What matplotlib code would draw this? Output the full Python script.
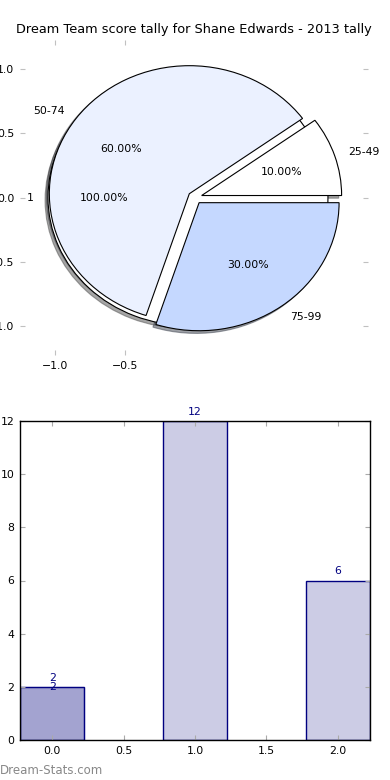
import matplotlib
matplotlib.use("Agg")
import matplotlib.pyplot as plt

# ---- data ----
title = "Dream Team score tally for Shane Edwards - 2013 tally"
first_labels = ["1"]
first_values = [2]
labels = ["25-49", "50-74", "75-99"]
values = [2, 12, 6]
pie_colors = ["#FFFFFF", "#EBF1FF", "#C5D8FF"]
bar_positions = [0, 1, 2]
first_positions = [0]
pie_xticks = [-1.0, -0.5]
pie_yticks = [-1.0, -0.5, 0.0, 0.5, 1.0]
bar_yticks = [0, 2, 4, 6, 8, 10, 12]
bar_xticks = [0.0, 0.5, 1.0, 1.5, 2.0]

plt.rcParams['font.family'] = ['DejaVu Sans']
fig = plt.figure(figsize=(3.9, 7.8), dpi=100)

# ---- pie axes ----
ax1 = fig.add_axes([20/390, 1-355/780, 348/390, 315/780])
wp = dict(edgecolor='black', linewidth=0.8)
sh = {'ox': -0.015, 'oy': -0.015}
ax1.pie(first_values, labels=first_labels, colors=["#FFFFFF"], autopct='%1.2f%%',
        explode=[0.05], shadow=sh, wedgeprops=wp, textprops=dict(fontsize=7.8))
ax1.pie(values, labels=labels, colors=pie_colors, autopct='%1.2f%%',
        explode=[0.05]*len(values), shadow=sh, wedgeprops=wp,
        textprops=dict(fontsize=7.8))
ax1.set_aspect('auto')
ax1.set_xlim(-1.25, 1.236)
ax1.set_ylim(-1.23, 1.23)
ax1.set_frame_on(False)
ax1.set_xticks(pie_xticks)
ax1.set_yticks(pie_yticks)
ax1.tick_params(direction='in', length=3.5, color='#c0c0c0', labelsize=7.8,
                top=True, right=True, pad=4)
ax1.set_title(title, fontsize=9.3, pad=5)

# ---- bar axes ----
ax2 = fig.add_axes([20/390, 40/780, 350/390, 319/780])
ax2.bar(first_positions, first_values, width=0.45, color='navy', alpha=0.2,
        edgecolor='navy', linewidth=1)
ax2.bar(bar_positions, values, width=0.45, color=(0, 0, 0.5, 0.2),
        edgecolor='navy', linewidth=1)
for x, v in zip(first_positions, first_values):
    ax2.text(x, v, '%d' % v, ha='center', va='center', color='navy', fontsize=7.8)
for x, v in zip(bar_positions, values):
    ax2.annotate('%d' % v, (x, v), xytext=(0, 3), textcoords='offset points',
                 ha='center', va='bottom', color='navy', fontsize=7.8)
ax2.set_xlim(-0.225, 2.225)
ax2.set_ylim(0, 12)
ax2.set_xticks(bar_xticks)
ax2.set_yticks(bar_yticks)
ax2.tick_params(direction='in', length=3.5, color='#aaaaaa', labelsize=7.8,
                top=True, right=True, pad=4)
for s in ax2.spines.values():
    s.set_linewidth(1)

fig.text(0.0, 10/780, "Dream-Stats.com", ha='left', va='center', color='#888888',
         fontsize=8.5)

fig.savefig("out.png", dpi=100)
